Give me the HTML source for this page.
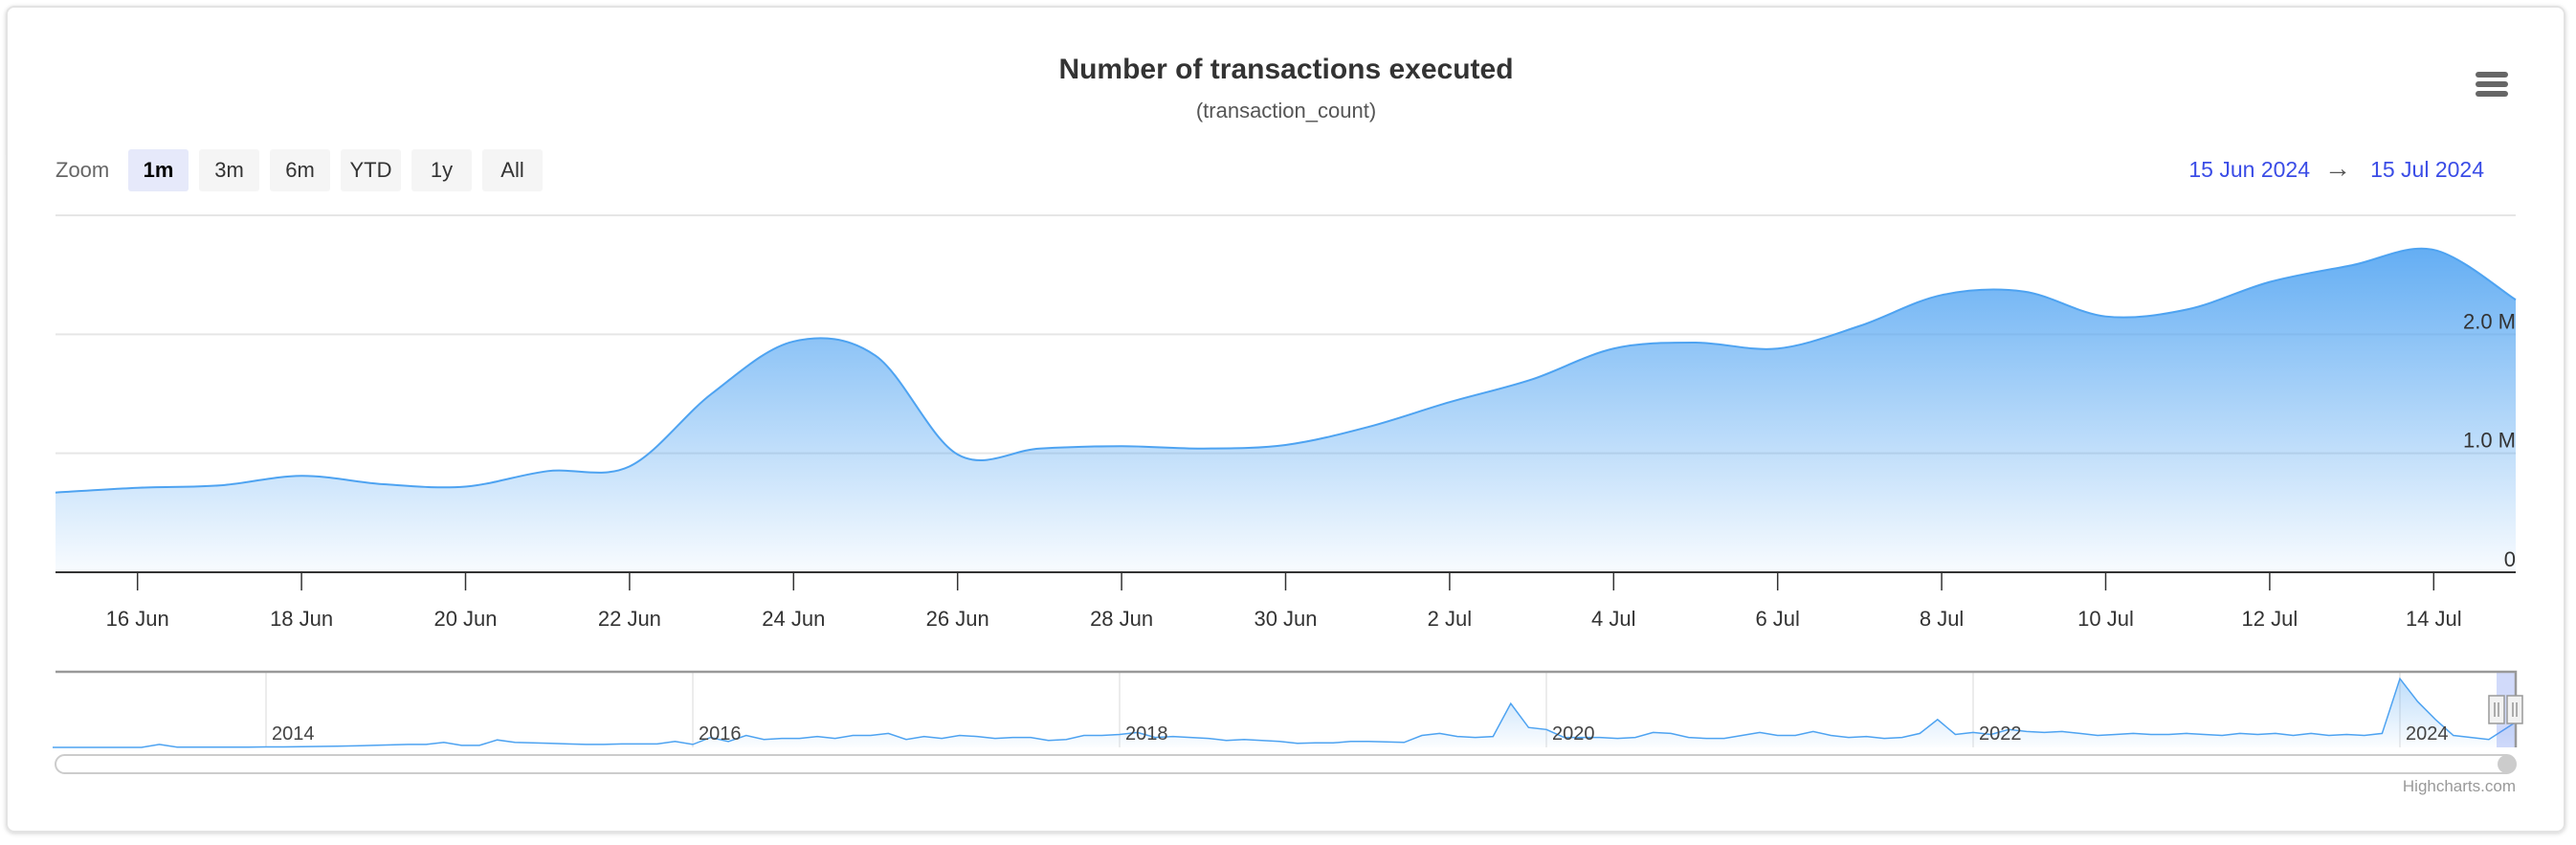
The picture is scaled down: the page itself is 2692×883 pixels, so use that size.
<!DOCTYPE html>
<html><head><meta charset="utf-8"><style>
html,body{margin:0;padding:0;background:#fff;}
body{width:2692px;height:878px;overflow:hidden;font-family:"Liberation Sans",Arial,sans-serif;}
svg text{font-family:"Liberation Sans",Arial,sans-serif;}
</style></head><body>
<svg id="chart" width="2692" height="878" viewBox="0 0 2692 878" xmlns="http://www.w3.org/2000/svg">
<defs>
<linearGradient id="areaGrad" x1="0" y1="225" x2="0" y2="598" gradientUnits="userSpaceOnUse">
<stop offset="0" stop-color="#55a6f2"/><stop offset="1" stop-color="#55a6f2" stop-opacity="0.04"/></linearGradient>
<linearGradient id="navGrad" x1="0" y1="702" x2="0" y2="781" gradientUnits="userSpaceOnUse">
<stop offset="0" stop-color="#55a6f2" stop-opacity="0.7"/><stop offset="1" stop-color="#55a6f2" stop-opacity="0.03"/></linearGradient>
<filter id="sh" x="-2%" y="-2%" width="104%" height="106%"><feDropShadow dx="0" dy="1" stdDeviation="2" flood-color="#000" flood-opacity="0.18"/></filter>
</defs>
<rect x="7" y="7" width="2673" height="862" rx="8" fill="#fff" stroke="#e3e3e3" stroke-width="2" filter="url(#sh)"/>
<text x="1344" y="82" text-anchor="middle" font-size="30" font-weight="bold" fill="#333">Number of transactions executed</text>
<text x="1344" y="123" text-anchor="middle" font-size="22" fill="#555">(transaction_count)</text>
<g stroke="#666" stroke-width="6" stroke-linecap="round">
<line x1="2590" y1="78" x2="2618" y2="78"/><line x1="2590" y1="88" x2="2618" y2="88"/><line x1="2590" y1="98" x2="2618" y2="98"/></g>
<text x="58" y="185" font-size="22" fill="#666">Zoom</text>
<g id="zoomBtns"></g>
<text x="2414" y="185" text-anchor="end" font-size="23" fill="#3a4ce6">15 Jun 2024</text>
<text x="2443" y="185" text-anchor="middle" font-size="28" fill="#555">→</text>
<text x="2596" y="185" text-anchor="end" font-size="23" fill="#3a4ce6">15 Jul 2024</text>
<g id="grid"></g>
<g id="main"></g>
<g id="ylabels"></g>
<g id="xaxis"></g>
<g id="nav"></g>
<text x="2629" y="827" text-anchor="end" font-size="17" fill="#999">Highcharts.com</text>
</svg>
<script>
// ---- data ----
const days = ["15 Jun","16 Jun","17 Jun","18 Jun","19 Jun","20 Jun","21 Jun","22 Jun","23 Jun","24 Jun","25 Jun","26 Jun","27 Jun","28 Jun","29 Jun","30 Jun","1 Jul","2 Jul","3 Jul","4 Jul","5 Jul","6 Jul","7 Jul","8 Jul","9 Jul","10 Jul","11 Jul","12 Jul","13 Jul","14 Jul","15 Jul"];
const txCount = [0.67,0.71,0.73,0.81,0.74,0.72,0.85,0.89,1.5,1.94,1.82,0.99,1.04,1.06,1.04,1.07,1.22,1.43,1.62,1.88,1.93,1.88,2.07,2.33,2.36,2.15,2.21,2.44,2.58,2.71,2.29];
const yTicks = [0,1,2,3];
const yTickLabels = ["0","1.0 M","2.0 M",""];
const xTickDays = [1,3,5,7,9,11,13,15,17,19,21,23,25,27,29];
const zoomButtons = ["1m","3m","6m","YTD","1y","All"];
const navYears = ["2014","2016","2018","2020","2022","2024"];
const navYearOffsets = [1,3,5,7,9,11];
const navValues = [
0,0,0,0,0,0,0.3,0.02,0.02,0.02,0.02,0.02,
0.05,0.05,0.08,0.1,0.12,0.15,0.2,0.25,0.3,0.3,0.5,0.2,
0.2,0.75,0.5,0.45,0.4,0.35,0.3,0.3,0.35,0.35,0.35,0.6,
0.3,1.0,0.6,1.2,0.8,0.9,0.9,1.1,0.9,1.2,1.2,1.4,
0.8,1.1,0.9,1.2,1.1,0.9,1.0,1.0,0.7,0.8,1.2,1.2,
1.3,1.5,1.0,1.1,1.0,0.9,0.7,0.8,0.7,0.6,0.4,0.45,
0.45,0.6,0.6,0.55,0.5,1.2,1.4,1.1,1.0,1.1,4.4,2.0,
1.8,1.0,1.0,1.0,0.9,1.0,1.5,1.4,1.0,0.9,0.9,1.2,
1.5,1.2,1.2,1.6,1.2,1.0,1.1,0.9,1.0,1.4,2.8,1.3,
1.5,1.3,1.8,1.6,1.5,1.6,1.4,1.2,1.3,1.4,1.3,1.3,
1.4,1.3,1.2,1.4,1.3,1.4,1.2,1.4,1.2,1.3,1.2,1.4,
6.9,4.6,2.8,1.2,1.0,0.8,2.5];

// ---- scales ----
const L=58,R=2629,T=225,B=598;
const xS=d=>L+d*(R-L)/30;
const yS=v=>B-v*(B-T)/3;
const navX=t=>278+(t-1)*223;
const navY=v=>781-v*10.4;
const NS="http://www.w3.org/2000/svg";
function mk(tag,attrs,parent){const e=document.createElementNS(NS,tag);for(const k in attrs)e.setAttribute(k,attrs[k]);parent.appendChild(e);return e;}

// zoom buttons
const zb=document.getElementById('zoomBtns');
zoomButtons.forEach((b,i)=>{
  const g=mk('g',{},zb);
  
  
  const x=134+i*74;
  mk('rect',{x:x,y:156,width:63,height:44,rx:3,fill:i===0?'#e6e9fa':'#f5f5f5'},g);
  const t=mk('text',{x:x+31.5,y:185,'text-anchor':'middle','font-size':22,fill:i===0?'#000':'#333','font-weight':i===0?'bold':'normal'},g);
  t.textContent=b;
});

// grid & y labels
const grid=document.getElementById('grid');
const ylab=document.getElementById('ylabels');
yTicks.forEach((v,i)=>{
  if(v>0){const l=mk('line',{x1:L,x2:R,y1:yS(v),y2:yS(v),stroke:'#e6e6e6','stroke-width':2},grid);
  
  }
  if(yTickLabels[i]){const t=mk('text',{x:R,y:yS(v)-6,'text-anchor':'end','font-size':22,fill:'#333'},ylab);
  
  
  t.textContent=yTickLabels[i];}
});

// spline
function spline(pts){
  let d='M'+pts[0][0]+','+pts[0][1];
  for(let i=0;i<pts.length-1;i++){
    const p0=pts[i-1]||pts[i],p1=pts[i],p2=pts[i+1],p3=pts[i+2]||p2;
    const c1=[p1[0]+(p2[0]-p0[0])/6,p1[1]+(p2[1]-p0[1])/6];
    const c2=[p2[0]-(p3[0]-p1[0])/6,p2[1]-(p3[1]-p1[1])/6];
    d+=' C'+c1[0]+','+c1[1]+' '+c2[0]+','+c2[1]+' '+p2[0]+','+p2[1];
  }
  return d;
}
const main=document.getElementById('main');
const pts=txCount.map((v,i)=>[xS(i),yS(v)]);
const line=spline(pts);
const area=mk('path',{d:line+' L'+xS(30)+','+B+' L'+xS(0)+','+B+' Z',fill:'url(#areaGrad)'},main);


const ln=mk('path',{d:line,fill:'none',stroke:'#4ea3f1','stroke-width':2},main);



// x axis
const xa=document.getElementById('xaxis');
const axl=mk('line',{x1:L,x2:R,y1:B,y2:B,stroke:'#333','stroke-width':2},xa);


xTickDays.forEach(d=>{
  const tk=mk('line',{x1:xS(d),x2:xS(d),y1:B,y2:617,stroke:'#333','stroke-width':1.5},xa);
  
  
  const t=mk('text',{x:xS(d),y:654,'text-anchor':'middle','font-size':22,fill:'#333'},xa);
  
  
  t.textContent=days[d];
});

// navigator
const nav=document.getElementById('nav');
navYearOffsets.forEach((o,i)=>{
  const g=mk('line',{x1:navX(o),x2:navX(o),y1:702,y2:781,stroke:'#e6e6e6','stroke-width':1.5},nav);
  
  
});
const npts=navValues.map((v,i)=>[i===navValues.length-1?navX(11.54):navX(i/12),navY(v)]);
let nd='M'+npts.map(p=>p[0].toFixed(1)+','+p[1].toFixed(1)).join(' L');
const na=mk('path',{d:nd+' L'+npts[npts.length-1][0]+',781 L'+npts[0][0]+',781 Z',fill:'url(#navGrad)','fill-opacity':0.6},nav);


const nl=mk('path',{d:nd,fill:'none',stroke:'#4ea3f1','stroke-width':1.5},nav);


navYearOffsets.forEach((o,i)=>{
  const t=mk('text',{x:navX(o)+6,y:773,'font-size':20,fill:'#444'},nav);
  
  
  t.textContent=navYears[i];
});
const win=mk('rect',{x:2609,y:702,width:20,height:79,fill:'rgba(102,133,240,0.3)'},nav);


const ob=mk('path',{d:'M58,702 L2629,702 L2629,781',fill:'none',stroke:'#999','stroke-width':2.5},nav);


[2601,2620].forEach((hx,i)=>{
  const g=mk('g',{},nav);
  
  
  mk('rect',{x:hx,y:727,width:16,height:29,fill:'#f2f2f2',stroke:'#999','stroke-width':1.5},g);
  mk('line',{x1:hx+6,x2:hx+6,y1:734,y2:749,stroke:'#666','stroke-width':1},g);
  mk('line',{x1:hx+10,x2:hx+10,y1:734,y2:749,stroke:'#666','stroke-width':1},g);
});
const sb=mk('rect',{x:58,y:789,width:2571,height:19,rx:9.5,fill:'#fff',stroke:'#ccc','stroke-width':2},nav);


const th=mk('rect',{x:2610,y:789,width:19,height:19,rx:9.5,fill:'#ccc'},nav);


</script>
</body></html>
